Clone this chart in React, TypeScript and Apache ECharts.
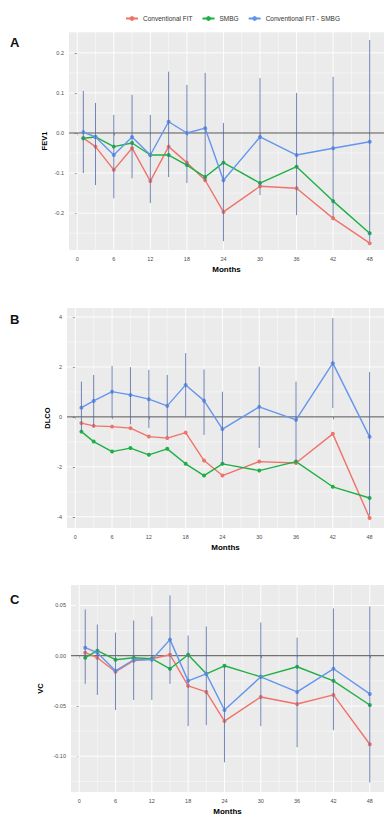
import React, { useEffect, useRef } from "react";
import * as echarts from "echarts";

const months = [1, 3, 6, 9, 12, 15, 18, 21, 24, 30, 36, 42, 48];
const monthTicks = [0, 6, 12, 18, 24, 30, 36, 42, 48];
const monthMinor = [3, 9, 15, 21, 27, 33, 39, 45];

const seriesNames = ["Conventional FIT", "SMBG", "Conventional FIT - SMBG"];

// Panel A: FEV1
const fevConv = [-0.013, -0.034, -0.092, -0.038, -0.12, -0.034, -0.074, -0.118, -0.197, -0.133, -0.138, -0.213, -0.275];
const fevSmbg = [-0.013, -0.01, -0.034, -0.025, -0.055, -0.055, -0.08, -0.11, -0.074, -0.125, -0.084, -0.17, -0.25];
const fevDiff = [0.002, -0.01, -0.055, -0.01, -0.055, 0.028, 0.0, 0.012, -0.118, -0.01, -0.055, -0.038, -0.022];
const fevDiffLow = [-0.1, -0.13, -0.163, -0.113, -0.175, -0.11, -0.125, -0.12, -0.27, -0.155, -0.205, -0.21, -0.27];
const fevDiffHigh = [0.105, 0.075, 0.045, 0.095, 0.045, 0.153, 0.12, 0.15, 0.025, 0.137, 0.1, 0.14, 0.232];
const fevTicks = [-0.2, -0.1, 0, 0.1, 0.2];
const fevMinor = [-0.25, -0.15, -0.05, 0.05, 0.15, 0.25];

// Panel B: DLCO
const dlcoConv = [-0.25, -0.36, -0.39, -0.45, -0.79, -0.85, -0.63, -1.75, -2.35, -1.79, -1.85, -0.68, -4.05];
const dlcoSmbg = [-0.59, -0.99, -1.39, -1.25, -1.52, -1.28, -1.88, -2.35, -1.88, -2.15, -1.79, -2.8, -3.25];
const dlcoDiff = [0.37, 0.64, 1.01, 0.88, 0.71, 0.44, 1.28, 0.65, -0.49, 0.4, -0.12, 2.15, -0.8];
const dlcoDiffLow = [-0.6, -0.4, -0.05, -0.3, -0.45, -0.8, 0.02, -0.72, -1.9, -1.25, -1.8, 0.35, -3.95];
const dlcoDiffHigh = [1.41, 1.68, 2.04, 1.99, 1.88, 1.68, 2.55, 1.9, 1.01, 2.01, 1.41, 3.95, 1.8];
const dlcoTicks = [-4, -2, 0, 2, 4];
const dlcoMinor = [-3, -1, 1, 3];

// Panel C: VC
const vcConv = [0.003, -0.002, -0.016, -0.005, -0.003, 0.001, -0.03, -0.036, -0.065, -0.041, -0.048, -0.039, -0.088];
const vcSmbg = [-0.002, 0.005, -0.004, -0.002, -0.003, -0.013, 0.001, -0.018, -0.01, -0.021, -0.011, -0.025, -0.049];
const vcDiff = [0.008, 0.003, -0.015, -0.004, -0.004, 0.016, -0.025, -0.018, -0.054, -0.021, -0.036, -0.013, -0.038];
const vcDiffLow = [-0.028, -0.039, -0.054, -0.044, -0.044, -0.028, -0.07, -0.069, -0.106, -0.07, -0.091, -0.074, -0.126];
const vcDiffHigh = [0.046, 0.031, 0.023, 0.035, 0.039, 0.06, 0.02, 0.029, -0.01, 0.033, 0.018, 0.047, 0.049];
const vcTicks = [-0.1, -0.05, 0, 0.05];
const vcMinor = [-0.125, -0.075, -0.025, 0.025];

const COLORS = ["#F0736B", "#1DB144", "#6495EE"];
const ERR_COLOR = "#5069a6";
const FONT = "'Liberation Sans', Arial, sans-serif";

type Panel = {
  letter: string;
  yName: string;
  conv: number[];
  smbg: number[];
  diff: number[];
  low: number[];
  high: number[];
  ticks: number[];
  minor: number[];
  yMin: number;
  yMax: number;
  digits: number;
  grid: { left: number; top: number; width: number; height: number };
  yNameGap: number;
};

const panels: Panel[] = [
  {
    letter: "A", yName: "FEV1", conv: fevConv, smbg: fevSmbg, diff: fevDiff, low: fevDiffLow, high: fevDiffHigh,
    ticks: fevTicks, minor: fevMinor, yMin: -0.292, yMax: 0.252, digits: 1,
    grid: { left: 69, top: 32, width: 315, height: 218 }, yNameGap: 21,
  },
  {
    letter: "B", yName: "DLCO", conv: dlcoConv, smbg: dlcoSmbg, diff: dlcoDiff, low: dlcoDiffLow, high: dlcoDiffHigh,
    ticks: dlcoTicks, minor: dlcoMinor, yMin: -4.45, yMax: 4.36, digits: 0,
    grid: { left: 67, top: 308, width: 317, height: 220 }, yNameGap: 16,
  },
  {
    letter: "C", yName: "VC", conv: vcConv, smbg: vcSmbg, diff: vcDiff, low: vcDiffLow, high: vcDiffHigh,
    ticks: vcTicks, minor: vcMinor, yMin: -0.1355, yMax: 0.0703, digits: 2,
    grid: { left: 71, top: 585, width: 313, height: 210 }, yNameGap: 27,
  },
];

const letterY = [36, 313, 593];

function gridRender(params: any, api: any) {
  const cs = params.coordSys;
  const vertical = api.value(2) === 1;
  const kind = api.value(3);
  const stroke = kind === 2 ? "#3d3d3d" : "#ffffff";
  const lw = kind === 2 ? 0.9 : kind === 1 ? 0.9 : 0.45;
  if (vertical) {
    const x = api.coord([api.value(0), api.value(1)])[0];
    return { type: "line", shape: { x1: x, y1: cs.y, x2: x, y2: cs.y + cs.height }, style: { stroke, lineWidth: lw } };
  }
  const y = api.coord([api.value(0), api.value(1)])[1];
  return { type: "line", shape: { x1: cs.x, y1: y, x2: cs.x + cs.width, y2: y }, style: { stroke, lineWidth: lw } };
}

function errRender(params: any, api: any) {
  const x = api.value(0);
  const p1 = api.coord([x, api.value(1)]);
  const p2 = api.coord([x, api.value(2)]);
  return {
    type: "line",
    shape: { x1: p1[0], y1: p1[1], x2: p2[0], y2: p2[1] },
    style: { stroke: ERR_COLOR, lineWidth: 0.9, opacity: 0.9 },
  };
}

function buildOption() {
  const grids: any[] = [];
  const xAxes: any[] = [];
  const yAxes: any[] = [];
  const series: any[] = [];
  const graphics: any[] = [];

  panels.forEach((p, i) => {
    grids.push({ ...p.grid, show: true, backgroundColor: "#EBEBEB", borderWidth: 0 });
    xAxes.push({
      type: "value", gridIndex: i, min: -1.35, max: 50.35,
      name: "Months", nameLocation: "middle", nameGap: 15,
      nameTextStyle: { fontFamily: FONT, fontSize: 8, fontWeight: "bold", color: "#000" },
      axisLine: { show: false },
      axisTick: { show: true, length: 2.5, customValues: monthTicks, lineStyle: { color: "#333", width: 0.8 } },
      axisLabel: { show: true, customValues: monthTicks, margin: 6, fontFamily: FONT, fontSize: 5.5, color: "#4D4D4D", formatter: (v: number) => String(Math.round(v)) },
      splitLine: { show: false },
    });
    yAxes.push({
      type: "value", gridIndex: i, min: p.yMin, max: p.yMax,
      name: p.yName, nameLocation: "middle", nameGap: p.yNameGap, nameRotate: 90,
      nameMoveOverlap: false,
      nameTextStyle: { fontFamily: FONT, fontSize: 7.5, fontWeight: "bold", color: "#000" },
      axisLine: { show: false },
      axisTick: { show: true, length: 2.5, customValues: p.ticks, lineStyle: { color: "#333", width: 0.8 } },
      axisLabel: { show: true, customValues: p.ticks, margin: 5, fontFamily: FONT, fontSize: 5.5, color: "#4D4D4D", formatter: (v: number) => v.toFixed(p.digits) },
      splitLine: { show: false },
    });

    const midX = 24;
    const midY = (p.yMin + p.yMax) / 2;
    const gridData: number[][] = [];
    monthMinor.forEach((m) => gridData.push([m, midY, 1, 0]));
    p.minor.forEach((v) => gridData.push([midX, v, 0, 0]));
    monthTicks.forEach((m) => gridData.push([m, midY, 1, 1]));
    p.ticks.forEach((v) => gridData.push([midX, v, 0, 1]));
    gridData.push([midX, 0, 0, 2]);

    series.push({
      type: "custom", xAxisIndex: i, yAxisIndex: i, silent: true, z: 1,
      renderItem: gridRender, encode: { x: 0, y: 1 }, data: gridData,
    });

    const vals = [p.conv, p.smbg, p.diff];
    vals.forEach((arr, k) => {
      series.push({
        type: "line", name: seriesNames[k], xAxisIndex: i, yAxisIndex: i, z: 3,
        data: months.map((m, j) => [m, arr[j]]),
        symbol: "circle", symbolSize: 4, showSymbol: true,
        lineStyle: { color: COLORS[k], width: 1.4 },
        itemStyle: { color: COLORS[k] },
        emphasis: { disabled: true },
      });
    });

    series.push({
      type: "custom", name: seriesNames[2], xAxisIndex: i, yAxisIndex: i, silent: true, z: 4,
      renderItem: errRender, encode: { x: 0, y: [1, 2] },
      data: months.map((m, j) => [m, p.low[j], p.high[j]]),
    });

    graphics.push({
      type: "text", left: 10, top: letterY[i],
      style: { text: p.letter, font: `bold 13px ${FONT}`, fill: "#111" },
    });
  });

  return {
    animation: false,
    backgroundColor: "#ffffff",
    color: COLORS,
    legend: {
      data: seriesNames,
      top: 10, left: 120,
      itemWidth: 12, itemHeight: 6, itemGap: 9,
      textStyle: { fontFamily: FONT, fontSize: 6.5, color: "#333" },
    },
    grid: grids,
    xAxis: xAxes,
    yAxis: yAxes,
    series,
    graphic: graphics,
  };
}

export default function App() {
  const ref = useRef<HTMLDivElement>(null);
  useEffect(() => {
    if (!ref.current) return;
    const chart = echarts.init(ref.current, null, { renderer: "svg" });
    chart.setOption(buildOption() as any);
    return () => chart.dispose();
  }, []);
  return (
    <div
      ref={ref}
      style={{ position: "fixed", left: 0, top: 0, width: 384, height: 816, background: "#fff" }}
    />
  );
}
